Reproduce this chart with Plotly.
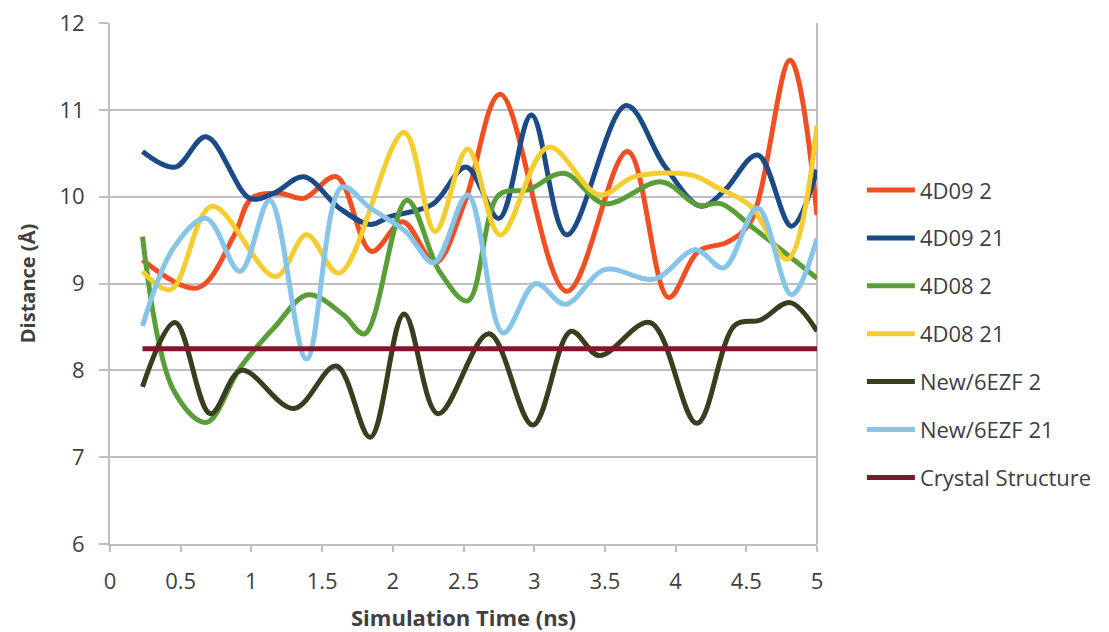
import plotly.graph_objects as go

# ---- data ----
t_4d09_2 = [0.23, 0.62, 0.88, 1.0, 1.2, 1.37, 1.6, 1.85, 2.07, 2.30, 2.51, 2.76, 3.23, 3.66, 3.95, 4.16, 4.37, 4.53, 4.81, 5.0]
y_4d09_2 = [9.27, 8.95, 9.56, 9.98, 10.04, 9.98, 10.23, 9.37, 9.71, 9.24, 9.94, 11.18, 8.91, 10.52, 8.84, 9.37, 9.48, 9.71, 11.57, 9.79]

t_4d09_21 = [0.23, 0.46, 0.68, 0.99, 1.16, 1.37, 1.62, 1.84, 1.98, 2.28, 2.52, 2.75, 2.98, 3.23, 3.65, 3.92, 4.18, 4.34, 4.58, 4.82, 5.0]
y_4d09_21 = [10.52, 10.34, 10.69, 9.98, 10.04, 10.23, 9.87, 9.68, 9.77, 9.91, 10.34, 9.75, 10.94, 9.56, 11.05, 10.36, 9.89, 10.06, 10.48, 9.66, 10.31]

t_4d08_2 = [0.23, 0.45, 0.68, 0.92, 1.16, 1.40, 1.65, 1.80, 2.10, 2.33, 2.53, 2.75, 2.96, 3.21, 3.50, 3.90, 4.16, 4.32, 4.55, 5.0]
y_4d08_2 = [9.54, 7.77, 7.40, 8.03, 8.49, 8.87, 8.64, 8.42, 9.96, 9.14, 8.80, 10.02, 10.08, 10.27, 9.92, 10.17, 9.90, 9.92, 9.64, 9.06]

t_4d08_21 = [0.23, 0.43, 0.72, 1.17, 1.39, 1.62, 2.08, 2.30, 2.53, 2.76, 3.10, 3.46, 3.71, 4.11, 4.30, 4.53, 4.79, 5.0]
y_4d08_21 = [9.14, 8.93, 9.89, 9.08, 9.56, 9.12, 10.74, 9.60, 10.55, 9.56, 10.57, 10.02, 10.23, 10.25, 10.10, 9.89, 9.28, 10.82]

t_new_2 = [0.23, 0.46, 0.71, 0.93, 1.30, 1.60, 1.84, 2.08, 2.32, 2.68, 2.99, 3.26, 3.46, 3.82, 4.15, 4.42, 4.60, 4.81, 5.0]
y_new_2 = [7.81, 8.55, 7.50, 8.00, 7.56, 8.05, 7.23, 8.65, 7.50, 8.42, 7.37, 8.45, 8.17, 8.55, 7.39, 8.52, 8.58, 8.78, 8.45]

t_new_21 = [0.23, 0.45, 0.68, 0.92, 1.13, 1.39, 1.64, 1.84, 2.09, 2.29, 2.53, 2.78, 3.01, 3.22, 3.50, 3.85, 4.14, 4.34, 4.58, 4.82, 5.0]
y_new_21 = [8.51, 9.41, 9.75, 9.14, 9.96, 8.13, 10.11, 9.87, 9.60, 9.24, 10.02, 8.43, 9.00, 8.76, 9.16, 9.05, 9.39, 9.18, 9.87, 8.87, 9.52]

t_crystal = [0.23, 5.0]
y_crystal = [8.25, 8.25]

names = ["4D09 2", "4D09 21", "4D08 2", "4D08 21", "New/6EZF 2", "New/6EZF 21", "Crystal Structure"]
colors = ["#F04E23", "#1B4A86", "#5A9E3A", "#F6CD31", "#373F1E", "#86C4EA", "#7A1A2C"]
xs = [t_4d09_2, t_4d09_21, t_4d08_2, t_4d08_21, t_new_2, t_new_21, t_crystal]
ys = [y_4d09_2, y_4d09_21, y_4d08_2, y_4d08_21, y_new_2, y_new_21, y_crystal]

FONT = "Open Sans"
TXT = "#404040"
GRID = "#BFBFC3"

fig = go.Figure()
for name, color, x, y in zip(names, colors, xs, ys):
    fig.add_trace(go.Scatter(
        x=x, y=y, mode="lines", name=name, legendgroup=name,
        line=dict(color=color, width=5, shape="spline", smoothing=1.0),
    ))

# the page body adds an 8px offset, so the figure is 8px smaller on each axis
fig.update_layout(
    width=1101, height=624,
    margin=dict(l=102, r=290, t=15, b=88),
    paper_bgcolor="white", plot_bgcolor="white",
    font=dict(family=FONT, size=22, color=TXT),
    showlegend=True,
    legend=dict(
        x=1.0635, xanchor="left", y=0.7194, yanchor="top",
        font=dict(family=FONT, size=22, color=TXT),
        tracegroupgap=16.3, itemwidth=48, bgcolor="rgba(0,0,0,0)",
    ),
    xaxis=dict(
        range=[0, 5], tickvals=[0, 0.5, 1, 1.5, 2, 2.5, 3, 3.5, 4, 4.5, 5],
        ticktext=["0", "0.5", "1", "1.5", "2", "2.5", "3", "3.5", "4", "4.5", "5"],
        showgrid=False, zeroline=False, automargin=False,
        showline=True, linecolor=GRID, linewidth=2,
        ticks="outside", ticklen=6, tickwidth=2, tickcolor=GRID,
        ticklabelstandoff=11, ticklabeloverflow="allow",
        tickfont=dict(family=FONT, size=22, color=TXT),
        title=dict(text="<b>Simulation Time (ns)</b>", standoff=19,
                   font=dict(family=FONT, size=22, color=TXT)),
    ),
    yaxis=dict(
        range=[6, 12], tickvals=[6, 7, 8, 9, 10, 11, 12],
        showgrid=True, gridcolor=GRID, gridwidth=2, zeroline=False, automargin=False,
        showline=True, linecolor=GRID, linewidth=2,
        ticks="outside", ticklen=9, tickwidth=2, tickcolor=GRID,
        ticklabelstandoff=10, ticklabeloverflow="allow",
        tickfont=dict(family=FONT, size=22, color=TXT),
        title=dict(text="<b>Distance (Å)</b>", standoff=18,
                   font=dict(family=FONT, size=20, color=TXT)),
    ),
    shapes=[dict(type="line", xref="paper", yref="paper", x0=1, x1=1, y0=0, y1=1,
                 line=dict(color=GRID, width=2), layer="below")],
)

fig.write_html("out.html")
